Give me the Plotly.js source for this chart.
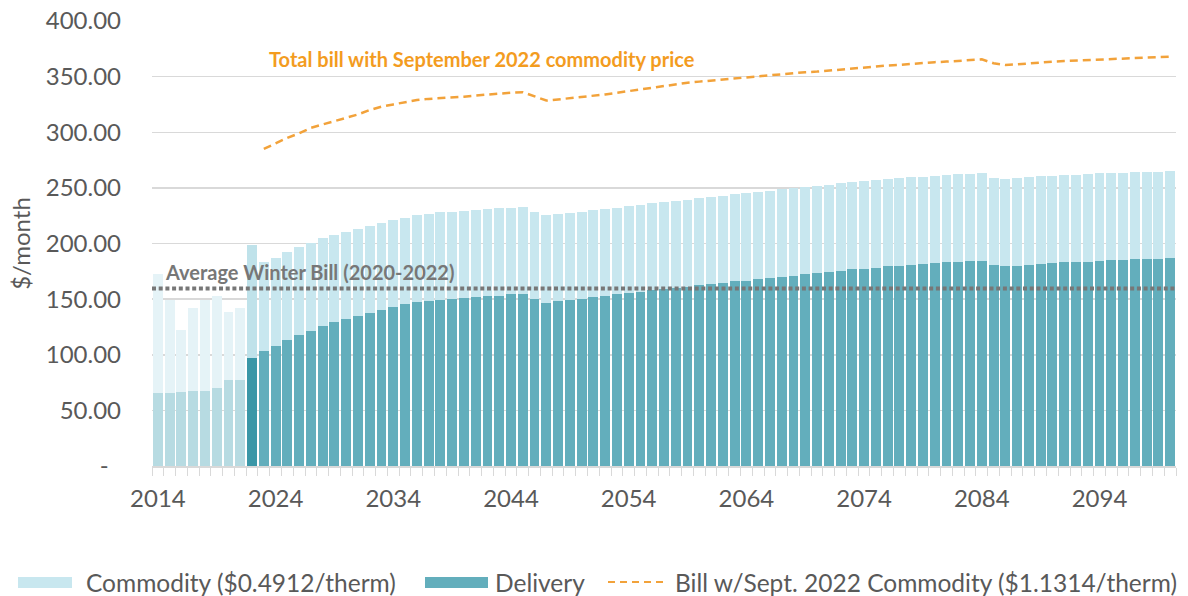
<!DOCTYPE html>
<html>
<head>
<meta charset="utf-8">
<script src="https://cdn.plot.ly/plotly-3.0.1.min.js"></script>
<style>
  html, body { margin: 0; padding: 0; background: #ffffff; }
  #chart { width: 1188px; height: 596px; }
</style>
</head>
<body>
<div id="chart"></div>
<script>
// ---------------- DATA ----------------
const years = [
  2014, 2015, 2016, 2017, 2018, 2019, 2020, 2021, 2022, 2023,
  2024, 2025, 2026, 2027, 2028, 2029, 2030, 2031, 2032, 2033,
  2034, 2035, 2036, 2037, 2038, 2039, 2040, 2041, 2042, 2043,
  2044, 2045, 2046, 2047, 2048, 2049, 2050, 2051, 2052, 2053,
  2054, 2055, 2056, 2057, 2058, 2059, 2060, 2061, 2062, 2063,
  2064, 2065, 2066, 2067, 2068, 2069, 2070, 2071, 2072, 2073,
  2074, 2075, 2076, 2077, 2078, 2079, 2080, 2081, 2082, 2083,
  2084, 2085, 2086, 2087, 2088, 2089, 2090, 2091, 2092, 2093,
  2094, 2095, 2096, 2097, 2098, 2099, 2100
];

// Delivery portion ($/month)
const delivery = [
  66, 66, 66.5, 67, 67, 70, 77, 77.5, 97.4, 103.7,
  108.2, 113, 117.5, 121.6, 126.1, 129, 132.1, 135.1, 137.8, 140.2,
  142.6, 145.3, 147.4, 148.6, 149.2, 150.1, 151.3, 152.2, 152.8, 153.1,
  154.3, 154.9, 150.4, 146.8, 148.6, 149, 150.1, 151.6, 152.8, 154.6,
  155.8, 156.4, 157.9, 159.1, 160, 161.2, 162.4, 163.3, 164.8, 166,
  166.6, 168.1, 169.3, 169.9, 171.1, 172.6, 173.5, 174.4, 175.6, 176.8,
  177.4, 178.3, 179.5, 180, 180.7, 181.6, 182.5, 183.1, 183.6, 183.9,
  184.3, 180.7, 179.5, 180, 180.7, 181.3, 182.5, 183.1, 183.4, 183.6,
  184.3, 184.9, 185.4, 185.8, 186.1, 186.4, 186.7
];

// Commodity portion ($/month) at $0.4912/therm (historical years at actual prices)
const commodity = [
  107, 83, 55.5, 75, 82, 83, 61, 64.5, 101.3, 79.3,
  78.8, 79, 79, 78.9, 78.9, 79, 78.5, 77.9, 77.9, 78,
  78.5, 77.9, 78.2, 78.2, 78.8, 78.5, 77.9, 77.9, 78.2, 78.8,
  77.9, 78.2, 78.2, 78.8, 78.2, 78.7, 78.5, 78.5, 78.5, 77.3,
  77.9, 78.5, 78.2, 78.2, 78.2, 78.2, 78.2, 78.5, 78.2, 78.2,
  78.8, 78.2, 78.2, 78.8, 78.5, 78.2, 78.5, 78.5, 78.5, 78.2,
  78.8, 78.5, 78.5, 78.6, 78.8, 78.5, 78.2, 78.5, 78.6, 78.9,
  78.8, 78.5, 78.5, 78.6, 79.1, 79.1, 78.5, 78.2, 78.5, 78.9,
  78.8, 78.5, 78.3, 78.2, 78.2, 78.2, 78.2
];

// Total bill with September 2022 commodity price ($1.1314/therm), 2023-2100
const billYears = years.slice(9);
const billSept2022 = [
  285, 290, 295, 299, 304, 307, 310, 313, 316, 320,
  323, 325, 327, 329, 330, 330.5, 331, 332, 333, 334,
  335, 335.5, 336, 332, 328.5, 329.5, 330.5, 331.5, 333, 334,
  335.5, 337, 339, 340, 341.5, 343, 344.5, 345.5, 346.5, 347.5,
  348.5, 349.5, 350.5, 351.5, 352, 353, 354, 354.5, 355.5, 356.5,
  357.5, 358.5, 359.5, 360, 360.5, 361.5, 362.5, 363, 363.5, 364,
  365, 365.5, 362, 360.5, 361, 362, 362.5, 363.5, 364, 364.5,
  365, 365.5, 366, 366.5, 367, 367, 367.5, 368
];

const avgWinterBill = 159.5;   // Average Winter Bill (2020-2022)
const firstForecastYear = 2022;

const yTickVals = [0, 50, 100, 150, 200, 250, 300, 350, 400];
const yTickText = ['-\u00a0\u00a0', '50.00', '100.00', '150.00', '200.00', '250.00', '300.00', '350.00', '400.00'];
const xTickVals = [2014, 2024, 2034, 2044, 2054, 2064, 2074, 2084, 2094];

const legendLabels = ['Commodity ($0.4912/therm)', 'Delivery', 'Bill w/Sept. 2022 Commodity ($1.1314/therm)'];

// ---------------- STYLE ----------------
const C = {
  commodity: '#c8e7ef',
  delivery: '#63aebc',
  commodityHist: '#e5f3f7',
  deliveryHist: '#b7dbe2',
  commodityCur: '#bfe2ea',
  deliveryCur: '#3a97a7',
  orange: '#f2a23a',
  orangeText: '#f39c1f',
  gray: '#777777',
  grid: '#d9d9d9',
  text: '#595959'
};

const delColors = years.map(y => y < firstForecastYear ? C.deliveryHist : (y === firstForecastYear ? C.deliveryCur : C.delivery));
const comColors = years.map(y => y < firstForecastYear ? C.commodityHist : (y === firstForecastYear ? C.commodityCur : C.commodity));

const traces = [
  {
    type: 'bar', x: years, y: delivery, name: legendLabels[1],
    marker: { color: delColors, line: { width: 0 } },
    hovertemplate: '%{x}: %{y:.2f}<extra>Delivery</extra>'
  },
  {
    type: 'bar', x: years, y: commodity, name: legendLabels[0],
    marker: { color: comColors, line: { width: 0 } },
    hovertemplate: '%{x}: %{y:.2f}<extra>Commodity</extra>'
  },
  {
    type: 'scatter', mode: 'lines', x: billYears, y: billSept2022, name: legendLabels[2],
    line: { color: C.orange, width: 2.5, dash: '8px,5px' },
    hovertemplate: '%{x}: %{y:.2f}<extra>Bill</extra>'
  }
];

// plot area in px: left 152, right 1176, top 21, bottom 466
const L = 152, R = 1176, T = 21, B = 466;
const px = v => (v - L) / (R - L);
const py = v => (B - v) / (B - T);

const legendY = 582;
const legendFont = { family: 'Lato', size: 24.5, color: C.text };
const shapes = [
  { type: 'line', xref: 'paper', yref: 'y', x0: 0, x1: 1, y0: avgWinterBill, y1: avgWinterBill,
    line: { color: C.gray, width: 4, dash: '4px,2.7px' }, layer: 'above' },
  // custom legend symbols
  { type: 'rect', xref: 'paper', yref: 'paper', x0: px(18), x1: px(72), y0: py(588), y1: py(577),
    fillcolor: C.commodity, line: { width: 0 } },
  { type: 'rect', xref: 'paper', yref: 'paper', x0: px(425), x1: px(488), y0: py(588), y1: py(577),
    fillcolor: C.delivery, line: { width: 0 } },
  { type: 'line', xref: 'paper', yref: 'paper', x0: px(608), x1: px(663), y0: py(legendY), y1: py(legendY),
    line: { color: C.orange, width: 2, dash: '7px,5px' } }
];

const annotations = [
  { xref: 'x', yref: 'y', x: 2014.4, y: 174.5, xanchor: 'left', yanchor: 'middle', showarrow: false,
    text: '<b>Average Winter Bill (2020-2022)</b>', font: { family: 'Lato', size: 20, color: C.gray } },
  { xref: 'x', yref: 'y', x: 2023.3, y: 366, xanchor: 'left', yanchor: 'middle', showarrow: false,
    text: '<b>Total bill with September 2022 commodity price</b>', font: { family: 'Lato', size: 20, color: C.orangeText } },
  { xref: 'paper', yref: 'paper', x: px(84), y: py(legendY), xanchor: 'left', yanchor: 'middle', showarrow: false,
    text: legendLabels[0], font: legendFont },
  { xref: 'paper', yref: 'paper', x: px(493), y: py(legendY), xanchor: 'left', yanchor: 'middle', showarrow: false,
    text: legendLabels[1], font: legendFont },
  { xref: 'paper', yref: 'paper', x: px(673), y: py(legendY), xanchor: 'left', yanchor: 'middle', showarrow: false,
    text: legendLabels[2], font: legendFont }
];

const layout = {
  width: 1188, height: 596,
  margin: { l: L, r: 1188 - R, t: T, b: 596 - B, pad: 0 },
  paper_bgcolor: '#ffffff', plot_bgcolor: '#ffffff',
  font: { family: 'Lato', color: C.text, size: 24 },
  barmode: 'stack', bargap: 0.16,
  showlegend: false,
  xaxis: {
    type: 'linear', range: [2013.5, 2100.5], fixedrange: true,
    tickmode: 'array', tickvals: xTickVals, ticktext: xTickVals.map(String),
    ticks: '', ticklabelstandoff: 11,
    tickfont: { family: 'Lato', size: 24, color: C.text },
    showgrid: false, zeroline: false,
    showline: true, linecolor: C.grid, linewidth: 1.5,
    minor: { tickmode: 'linear', tick0: 2013.5, dtick: 1, ticks: 'outside', ticklen: 8, tickwidth: 1, tickcolor: C.grid, showgrid: false }
  },
  yaxis: {
    range: [0, 400], fixedrange: true,
    tickmode: 'array', tickvals: yTickVals, ticktext: yTickText,
    ticks: '', ticklabelstandoff: 30,
    tickfont: { family: 'Lato', size: 24, color: C.text },
    showgrid: true, gridcolor: C.grid, gridwidth: 1.5, zeroline: false,
    title: { text: '$/month', font: { family: 'Lato', size: 24, color: C.text }, standoff: 8 }
  },
  shapes: shapes,
  annotations: annotations
};

Plotly.newPlot('chart', traces, layout, { displayModeBar: false, staticPlot: true });
</script>
</body>
</html>
